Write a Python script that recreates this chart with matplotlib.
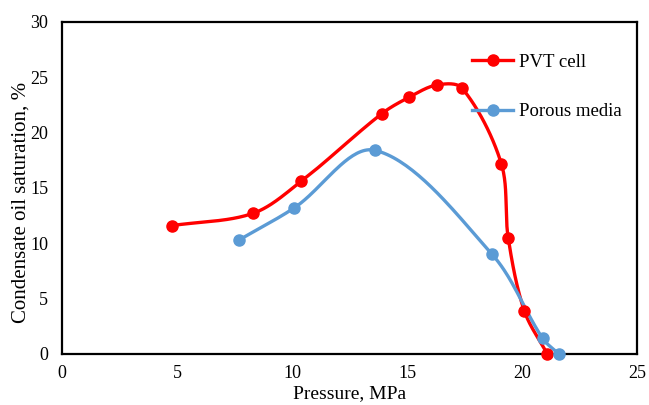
import numpy as np
import matplotlib
matplotlib.use("Agg")
import matplotlib.pyplot as plt

# ── Data ──────────────────────────────────────────────────────────────────────
pvt_pressure = [4.8, 8.3, 10.4, 13.9, 15.1, 16.3, 17.4, 19.1, 19.4, 20.1, 21.1]
pvt_sat      = [11.6, 12.7, 15.6, 21.7, 23.2, 24.3, 24.0, 17.2, 10.5, 3.9, 0.0]

porous_pressure = [7.7, 10.1, 13.6, 18.7, 20.9, 21.6]
porous_sat      = [10.3, 13.2, 18.4, 9.0, 1.4, 0.0]

RED  = "#FF0000"
BLUE = "#5B9BD5"

plt.rcParams["font.family"] = ["Liberation Serif", "DejaVu Serif"]
plt.rcParams["font.size"] = 13


def smooth_path(ax, xs, ys, n=40):
    """Excel-like smoothed line: chord-length scaled Bezier in display space."""
    p = ax.transData.transform(np.column_stack([xs, ys]))
    m = len(p)
    d = np.linalg.norm(np.diff(p, axis=0), axis=1)
    tang = np.zeros_like(p)
    for i in range(m):
        if i == 0:
            tang[i] = (p[1] - p[0]) / d[0]
        elif i == m - 1:
            tang[i] = (p[-1] - p[-2]) / d[-1]
        else:
            tang[i] = (p[i + 1] - p[i - 1]) / (d[i - 1] + d[i])
    t = np.linspace(0, 1, n)[:, None]
    out = []
    for i in range(m - 1):
        p1, p2 = p[i], p[i + 1]
        c1 = p1 + tang[i] * d[i] / 3
        c2 = p2 - tang[i + 1] * d[i] / 3
        seg = ((1 - t) ** 3) * p1 + 3 * ((1 - t) ** 2) * t * c1 \
            + 3 * (1 - t) * t ** 2 * c2 + t ** 3 * p2
        out.append(seg)
    out = np.vstack(out)
    r = ax.transData.inverted().transform(out)
    return r[:, 0], r[:, 1]


fig = plt.figure(figsize=(6.49, 4.05), dpi=100)
ax = fig.add_axes([0.0955, 0.126, 0.886, 0.820])
ax.set_xlim(0, 25)
ax.set_ylim(0, 30)

for xs, ys, col, lab in [(pvt_pressure, pvt_sat, RED, "PVT cell"),
                         (porous_pressure, porous_sat, BLUE, "Porous media")]:
    sx, sy = smooth_path(ax, xs, ys)
    ax.plot(sx, sy, color=col, lw=2.4, clip_on=False, solid_capstyle="round")
    ax.plot(xs, ys, "o", color=col, ms=8, clip_on=False, zorder=5)
    ax.plot([], [], color=col, lw=2.4, marker="o", ms=8, label=lab)

ax.set_xticks(range(0, 26, 5))
ax.set_yticks(range(0, 31, 5))
ax.tick_params(length=0, labelsize=13)
ax.tick_params(axis="x", pad=8)
ax.tick_params(axis="y", pad=10)

for s in ax.spines.values():
    s.set_linewidth(1.6)
    s.set_color("black")

ax.set_xlabel("Pressure, MPa", fontsize=14)
ax.xaxis.set_label_coords(0.5, -0.094)
ax.set_ylabel("Condensate oil saturation, %", fontsize=15)
ax.yaxis.set_label_coords(-0.054, 0.455)

ax.legend(loc="upper left", bbox_to_anchor=(0.713, 0.905), frameon=False,
          fontsize=13.5, borderpad=0, borderaxespad=0, handlelength=2.2,
          handletextpad=0.3, labelspacing=1.75)

fig.savefig("out.png", dpi=100)
